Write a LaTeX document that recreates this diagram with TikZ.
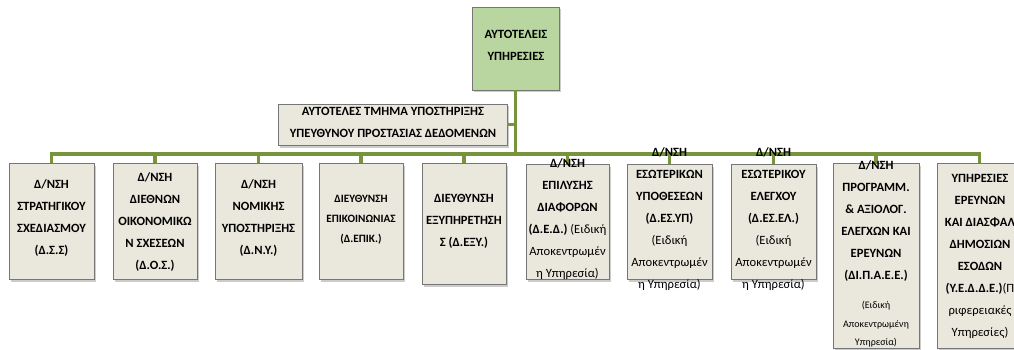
\documentclass[tikz,border=0pt]{standalone}
\usepackage{fontspec}
\setmainfont{Carlito}
\usetikzlibrary{positioning,shadows}
\definecolor{busGreen}{RGB}{119,147,60}
\definecolor{headGreen}{RGB}{185,214,160}
\definecolor{unitFill}{RGB}{234,232,221}
\definecolor{unitLine}{RGB}{118,118,118}
\tikzset{
  unit/.style={draw=unitLine,fill=unitFill,line width=0.8pt,inner sep=0pt,
               drop shadow={shadow xshift=1.5pt,shadow yshift=-2.5pt,opacity=0.4}},
  head/.style={unit,fill=headGreen},
  lbl/.style={align=center,inner sep=0pt,font=\fontsize{12.6}{22}\selectfont\bfseries},
  lbls/.style={align=center,inner sep=0pt,font=\fontsize{11.2}{20}\selectfont\bfseries},
  note/.style={align=center,inner sep=0pt,font=\fontsize{10}{18.5}\selectfont},
  bus/.style={busGreen,line width=3.8pt},
}

\begin{document}
\begin{tikzpicture}[x=1pt,y=-1pt]
  \useasboundingbox (0,0) rectangle (1014,350);
  \clip (0,0) rectangle (1014,350);

  % boxes
  \node[head,minimum width=87pt,minimum height=83pt]  (top)    at (515.5,48.5) {};
  \node[unit,minimum width=229pt,minimum height=41pt] (dpo)    at (392.5,124.5) {};
  \node[unit,minimum width=85pt,minimum height=116pt] (dss)    at (51.5,221) {};
  \node[unit,minimum width=84pt,minimum height=116pt] (dos)    at (155,221) {};
  \node[unit,minimum width=87pt,minimum height=116pt] (dny)    at (258.5,221) {};
  \node[unit,minimum width=84pt,minimum height=116pt] (depik)  at (361,221) {};
  \node[unit,minimum width=84pt,minimum height=121pt] (dexy)   at (464,223.5) {};
  \node[unit,minimum width=83pt,minimum height=115pt] (ded)    at (567.5,221.5) {};
  \node[unit,minimum width=85pt,minimum height=115pt] (desyp)  at (669.5,221.5) {};
  \node[unit,minimum width=85pt,minimum height=115pt] (desel)  at (773.5,221.5) {};
  \node[unit,minimum width=86pt,minimum height=185pt] (dipaee) at (876,255.5) {};
  \node[unit,minimum width=85pt,minimum height=185pt] (yedde)  at (979.5,255.5) {};

  % connectors
  \draw[bus] (top.south) -- ++(0,64);
  \draw[bus] (dpo.east) -- (dpo.east -| top.south);
  \draw[bus] (dss.north) -- ++(0,-9) -| (yedde.north);
  \foreach \u in {dos,dny,depik,dexy,ded,desyp,desel,dipaee}
    \draw[bus] (\u.north) -- ++(0,-9);

  % texts
  \node[lbl] at (516,45.5) {ΑΥΤΟΤΕΛΕΙΣ\\ΥΠΗΡΕΣΙΕΣ};
  \node[lbl] at (393,122) {ΑΥΤΟΤΕΛΕΣ ΤΜΗΜΑ ΥΠΟΣΤΗΡΙΞΗΣ\\ΥΠΕΥΘΥΝΟΥ ΠΡΟΣΤΑΣΙΑΣ ΔΕΔΟΜΕΝΩΝ};
  \node[lbl] at (51.5,218) {Δ/ΝΣΗ\\ΣΤΡΑΤΗΓΙΚΟΥ\\ΣΧΕΔΙΑΣΜΟΥ\\(Δ.Σ.Σ)};
  \node[lbl] at (155,222.5) {Δ/ΝΣΗ\\ΔΙΕΘΝΩΝ\\ΟΙΚΟΝΟΜΙΚΩ\\Ν ΣΧΕΣΕΩΝ\\(Δ.Ο.Σ.)};
  \node[lbl] at (258.5,218) {Δ/ΝΣΗ\\ΝΟΜΙΚΗΣ\\ΥΠΟΣΤΗΡΙΞΗΣ\\(Δ.Ν.Υ.)};
  \node[lbls] at (361,219.5) {ΔΙΕΥΘΥΝΣΗ\\ΕΠΙΚΟΙΝΩΝΙΑΣ\\(Δ.ΕΠΙΚ.)};
  \node[lbl] at (464,221.5) {ΔΙΕΥΘΥΝΣΗ\\ΕΞΥΠΗΡΕΤΗΣΗ\\Σ (Δ.ΕΞΥ.)};
  \node[lbl] at (567.5,219.5) {Δ/ΝΣΗ\\ΕΠΙΛΥΣΗΣ\\ΔΙΑΦΟΡΩΝ\\(Δ.Ε.Δ.) \textmd{(Ειδική}\\
    \textmd{Αποκεντρωμέν}\\\textmd{η Υπηρεσία)}};
  \node[lbl] at (669.5,219.5) {Δ/ΝΣΗ\\ΕΣΩΤΕΡΙΚΩΝ\\ΥΠΟΘΕΣΕΩΝ\\(Δ.ΕΣ.ΥΠ)\\\textmd{(Ειδική}\\
    \textmd{Αποκεντρωμέν}\\\textmd{η Υπηρεσία)}};
  \node[lbl] at (773.5,219.5) {Δ/ΝΣΗ\\ΕΣΩΤΕΡΙΚΟΥ\\ΕΛΕΓΧΟΥ\\(Δ.ΕΣ.ΕΛ.)\\\textmd{(Ειδική}\\
    \textmd{Αποκεντρωμέν}\\\textmd{η Υπηρεσία)}};
  \node[lbl] at (876,221.5) {Δ/ΝΣΗ\\ΠΡΟΓΡΑΜΜ.\\\&~ΑΞΙΟΛΟΓ.\\ΕΛΕΓΧΩΝ ΚΑΙ\\ΕΡΕΥΝΩΝ\\(ΔΙ.Π.Α.Ε.Ε.)};
  \node[note] at (876,324.5) {(Ειδική\\Αποκεντρωμένη\\Υπηρεσία)};
  \node[lbl] at (980,256) {ΥΠΗΡΕΣΙΕΣ\\ΕΡΕΥΝΩΝ\\ΚΑΙ ΔΙΑΣΦΑΛ\\ΔΗΜΟΣΙΩΝ\\ΕΣΟΔΩΝ\\
    (Υ.Ε.Δ.Δ.Ε.)\textmd{(Π}\hspace{6pt}\\\textmd{ριφερειακές}\\\textmd{Υπηρεσίες)}};
\end{tikzpicture}
\end{document}
